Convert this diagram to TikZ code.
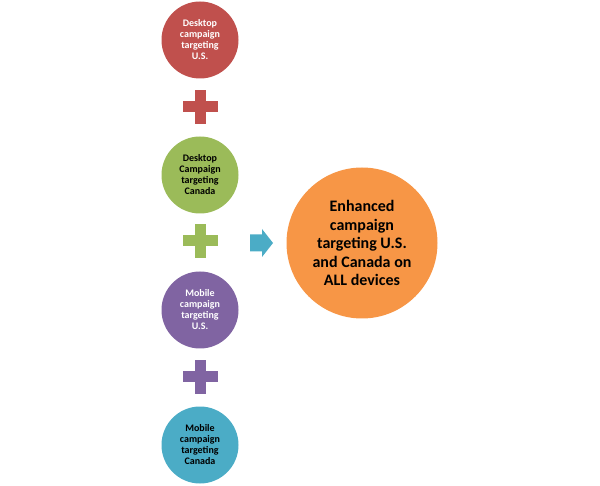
\documentclass[tikz,border=0pt]{standalone}
\usepackage{fontspec}
\setmainfont{Carlito}
\definecolor{camred}{HTML}{C0504D}
\definecolor{camgreen}{HTML}{9BBB59}
\definecolor{campurple}{HTML}{8064A2}
\definecolor{camteal}{HTML}{4BACC6}
\definecolor{camorange}{HTML}{F79646}
\tikzset{
	smallcirc/.style={circle, minimum size=77pt, inner sep=0pt, align=center,
		font=\bfseries\fontsize{10}{11}\selectfont},
	bigcirc/.style={circle, minimum size=151pt, inner sep=0pt, align=center,
		font=\bfseries\fontsize{16}{18.5}\selectfont}
}
\begin{document}
\begin{tikzpicture}[x=1pt, y=-1pt]
	\useasboundingbox (0,0) rectangle (600,486);
	
	%Kreise
	\node[smallcirc, fill=camred, text=white] (deskus) at (200,40) {Desktop\\campaign\\targeting\\U.S.};
	\node[smallcirc, fill=camgreen] (deskca) at (200,175) {Desktop\\Campaign\\targeting\\Canada};
	\node[smallcirc, fill=campurple, text=white] (mobus) at (200,310) {Mobile\\campaign\\targeting\\U.S.};
	\node[smallcirc, fill=camteal] (mobca) at (200,445) {Mobile\\campaign\\targeting\\Canada};
	
	%Plus
	\foreach \y/\c in {107/camred, 241/camgreen, 377/campurple} {
		\fill[\c] (182.5,\y-5.5) rectangle (217.5,\y+5.5);
		\fill[\c] (194.5,\y-17) rectangle (205.5,\y+17);
	}
	
	%Pfeil
	\fill[camteal] (250,234.5) -- (262,234.5) -- (262,229) -- (273,243)
		-- (262,257) -- (262,251.5) -- (250,251.5) -- cycle;
	
	\node[bigcirc, fill=camorange] (enhanced) at (362,243) {Enhanced\\campaign\\targeting U.S.\\and Canada on\\ALL devices};
\end{tikzpicture}
\end{document}
